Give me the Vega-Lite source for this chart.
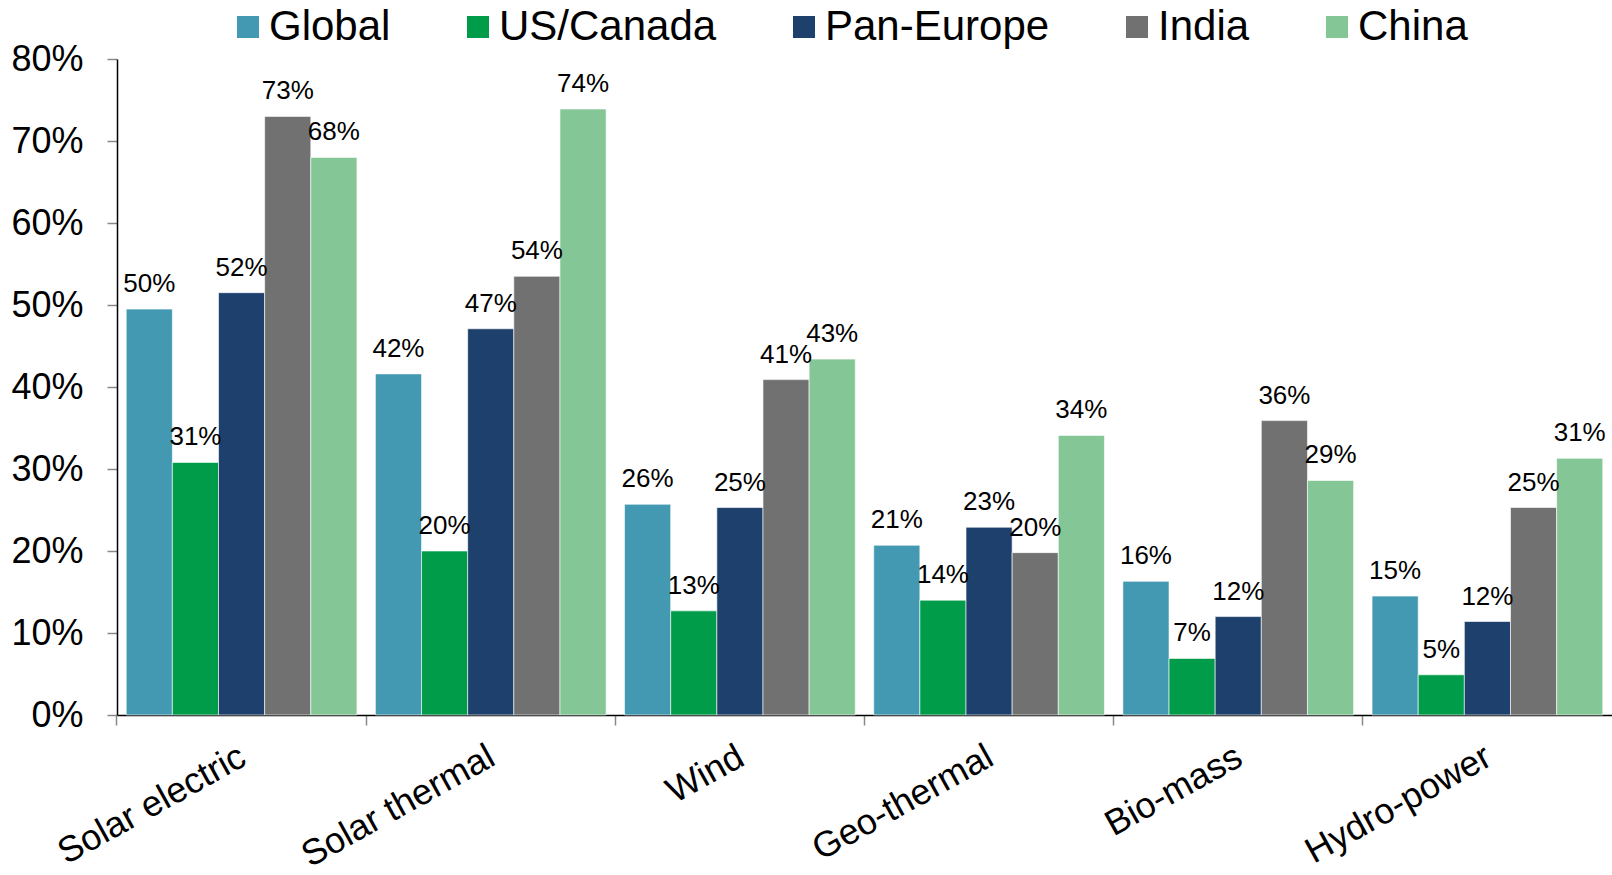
{
  "$schema": "https://vega.github.io/schema/vega-lite/v6.json",
  "autosize": "none",
  "width": 1495,
  "height": 656,
  "padding": {"left": 117, "top": 59, "right": 0, "bottom": 160},
  "background": "white",
  "config": {
    "font": "Liberation Sans",
    "view": {"stroke": null}
  },
  "data": {
    "values": [
      {"source": "Solar electric", "region": "Global", "value": 0.495, "label": "50%"},
      {"source": "Solar electric", "region": "US/Canada", "value": 0.308, "label": "31%"},
      {"source": "Solar electric", "region": "Pan-Europe", "value": 0.515, "label": "52%"},
      {"source": "Solar electric", "region": "India", "value": 0.730, "label": "73%"},
      {"source": "Solar electric", "region": "China", "value": 0.680, "label": "68%"},
      {"source": "Solar thermal", "region": "Global", "value": 0.416, "label": "42%"},
      {"source": "Solar thermal", "region": "US/Canada", "value": 0.200, "label": "20%"},
      {"source": "Solar thermal", "region": "Pan-Europe", "value": 0.471, "label": "47%"},
      {"source": "Solar thermal", "region": "India", "value": 0.535, "label": "54%"},
      {"source": "Solar thermal", "region": "China", "value": 0.739, "label": "74%"},
      {"source": "Wind", "region": "Global", "value": 0.257, "label": "26%"},
      {"source": "Wind", "region": "US/Canada", "value": 0.127, "label": "13%"},
      {"source": "Wind", "region": "Pan-Europe", "value": 0.253, "label": "25%"},
      {"source": "Wind", "region": "India", "value": 0.409, "label": "41%"},
      {"source": "Wind", "region": "China", "value": 0.434, "label": "43%"},
      {"source": "Geo-thermal", "region": "Global", "value": 0.207, "label": "21%"},
      {"source": "Geo-thermal", "region": "US/Canada", "value": 0.140, "label": "14%"},
      {"source": "Geo-thermal", "region": "Pan-Europe", "value": 0.229, "label": "23%"},
      {"source": "Geo-thermal", "region": "India", "value": 0.198, "label": "20%"},
      {"source": "Geo-thermal", "region": "China", "value": 0.341, "label": "34%"},
      {"source": "Bio-mass", "region": "Global", "value": 0.163, "label": "16%"},
      {"source": "Bio-mass", "region": "US/Canada", "value": 0.069, "label": "7%"},
      {"source": "Bio-mass", "region": "Pan-Europe", "value": 0.120, "label": "12%"},
      {"source": "Bio-mass", "region": "India", "value": 0.359, "label": "36%"},
      {"source": "Bio-mass", "region": "China", "value": 0.286, "label": "29%"},
      {"source": "Hydro-power", "region": "Global", "value": 0.145, "label": "15%"},
      {"source": "Hydro-power", "region": "US/Canada", "value": 0.049, "label": "5%"},
      {"source": "Hydro-power", "region": "Pan-Europe", "value": 0.114, "label": "12%"},
      {"source": "Hydro-power", "region": "India", "value": 0.253, "label": "25%"},
      {"source": "Hydro-power", "region": "China", "value": 0.313, "label": "31%"}
    ]
  },
  "encoding": {
    "x": {
      "field": "source",
      "type": "nominal",
      "sort": ["Solar electric", "Solar thermal", "Wind", "Geo-thermal", "Bio-mass", "Hydro-power"],
      "scale": {"paddingInner": 0.074, "paddingOuter": 0.037},
      "axis": {
        "title": null,
        "bandPosition": -0.04,
        "labelOffset": -7,
        "labelAngle": -29,
        "labelAlign": "right",
        "labelBaseline": "top",
        "labelFontSize": 36,
        "labelColor": "black",
        "labelPadding": 14,
        "labelLimit": 500,
        "labelOverlap": false,
        "domainColor": "black",
        "domainWidth": 1.5,
        "tickColor": "#888888",
        "tickSize": 10,
        "tickWidth": 1.5,
        "grid": false
      }
    },
    "xOffset": {
      "field": "region",
      "type": "nominal",
      "sort": ["Global", "US/Canada", "Pan-Europe", "India", "China"],
      "scale": {"paddingInner": 0, "paddingOuter": 0}
    },
    "y": {
      "field": "value",
      "type": "quantitative",
      "scale": {"domain": [0, 0.8], "nice": false},
      "axis": {
        "title": null,
        "format": ".0%",
        "values": [0, 0.1, 0.2, 0.3, 0.4, 0.5, 0.6, 0.7, 0.8],
        "labelFontSize": 36,
        "labelColor": "black",
        "labelPadding": 24,
        "domainColor": "black",
        "domainWidth": 1.5,
        "tickColor": "#888888",
        "tickSize": 10,
        "tickWidth": 1.5,
        "grid": false
      }
    }
  },
  "layer": [
    {
      "mark": {"type": "bar", "stroke": "#ffffff", "strokeWidth": 1, "strokeOpacity": 0.6},
      "encoding": {
        "color": {
          "field": "region",
          "type": "nominal",
          "sort": ["Global", "US/Canada", "Pan-Europe", "India", "China"],
          "scale": {
            "domain": ["Global", "US/Canada", "Pan-Europe", "India", "China"],
            "range": ["#4399B1", "#009C49", "#1E406C", "#717171", "#84C695"]
          },
          "legend": {
            "title": null,
            "orient": "none",
            "direction": "horizontal",
            "legendX": 110,
            "legendY": -53,
            "symbolType": "square",
            "symbolSize": 484,
            "symbolStrokeWidth": 0,
            "labelFontSize": 42,
            "labelColor": "black",
            "labelOffset": 0,
            "columnPadding": 66,
            "labelLimit": 400
          }
        }
      }
    },
    {
      "mark": {"type": "text", "fontSize": 26, "color": "black", "baseline": "alphabetic", "dy": -17},
      "encoding": {
        "text": {"field": "label"}
      }
    }
  ]
}
